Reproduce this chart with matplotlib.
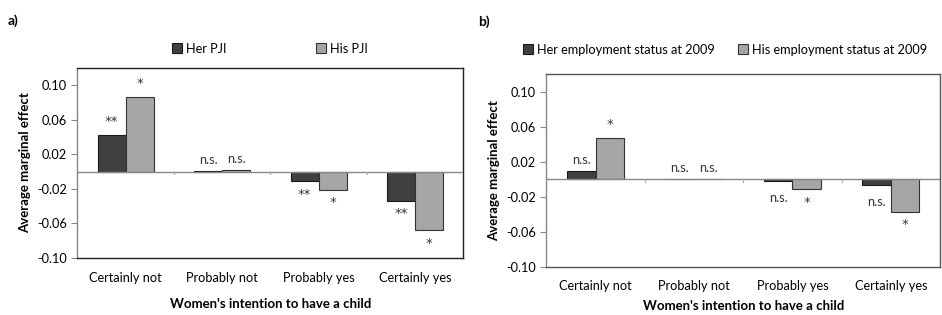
import matplotlib
matplotlib.use("Agg")
import matplotlib.pyplot as plt
import numpy as np

plt.rcParams['font.family'] = ['Lato', 'DejaVu Sans']

categories = ["Certainly not", "Probably not", "Probably yes", "Certainly yes"]

a_series = ["Her PJI", "His PJI"]
a_her = [0.043, 0.001, -0.011, -0.034]
a_his = [0.087, 0.002, -0.021, -0.068]
a_her_sig = ["**", "n.s.", "**", "**"]
a_his_sig = ["*", "n.s.", "*", "*"]

b_series = ["Her employment status at 2009", "His employment status at 2009"]
b_her = [0.009, 0.0, -0.002, -0.007]
b_his = [0.047, 0.0, -0.011, -0.037]
b_her_sig = ["n.s.", "n.s.", "n.s.", "n.s."]
b_his_sig = ["*", "n.s.", "*", "*"]

yticks = [0.10, 0.06, 0.02, -0.02, -0.06, -0.10]
ylabel = "Average marginal effect"
xlabel = "Women's intention to have a child"

HER_C = "#404040"
HIS_C = "#a6a6a6"
FS = 9.2

fig = plt.figure(figsize=(9.42, 3.15), dpi=100)

def panel(rect, her, his, her_sig, his_sig, names, frame_col, tpad, lpad):
    ax = fig.add_axes(rect)
    x = np.arange(len(categories))
    w = 0.29
    ax.bar(x - w/2, her, w, color=HER_C, edgecolor="#1a1a1a", linewidth=0.8, label=names[0], zorder=3)
    ax.bar(x + w/2, his, w, color=HIS_C, edgecolor="#333333", linewidth=0.8, label=names[1], zorder=3)
    ax.set_xlim(-0.5, len(categories) - 0.5)
    ax.set_ylim(-0.10, 0.12)
    ax.set_yticks(yticks)
    ax.set_yticklabels([f"{t:.2f}" for t in yticks])
    ax.axhline(0, color="#888888", linewidth=1.0, zorder=4)
    for b in np.arange(0.5, len(categories) - 0.5, 1.0):
        ax.plot([b, b], [0, -0.003], color="#aaaaaa", linewidth=0.8, zorder=4)
    ax.set_xticks(x)
    ax.set_xticklabels(categories, fontsize=FS)
    ax.tick_params(axis='x', length=0, pad=tpad)
    ax.tick_params(axis='y', labelsize=FS, length=4, color="#888888", width=0.8)
    for s in ax.spines.values():
        s.set_color(frame_col)
        s.set_linewidth(1.0)
    ax.spines['left'].set_color("#888888")
    ax.set_ylabel(ylabel, fontsize=9.5, fontweight='bold', labelpad=4)
    ax.set_xlabel(xlabel, fontsize=9.5, fontweight='bold', labelpad=lpad)
    for i in range(len(categories)):
        for xi, val, sig in ((x[i] - w/2, her[i], her_sig[i]), (x[i] + w/2, his[i], his_sig[i])):
            if sig == "n.s.":
                off = 0.013 if val >= 0 else 0.019
                fs = FS
                fam = ['Lato']
            else:
                off = 0.015
                fs = 9.5
                fam = ['DejaVu Sans']
            yy = val + off if val >= 0 else val - off
            ax.text(xi, yy, sig, ha='center', va='center', fontsize=fs, family=fam, color="#333333")
    return ax

ax1 = panel([0.082, 0.181, 0.410, 0.603], a_her, a_his, a_her_sig, a_his_sig, a_series, "#222222", 10, 10)
ax2 = panel([0.580, 0.152, 0.418, 0.613], b_her, b_his, b_her_sig, b_his_sig, b_series, "#555555", 9, 6)

fig.text(0.008, 0.935, "a)", fontsize=10, fontweight='bold', va='center')
fig.text(0.508, 0.93, "b)", fontsize=10, fontweight='bold', va='center')

h1, l1 = ax1.get_legend_handles_labels()
fig.legend(h1, l1, loc='center left', bbox_to_anchor=(0.177, 0.845), ncol=2, frameon=False,
           fontsize=FS, handlelength=0.8, handleheight=0.8, handletextpad=0.3, columnspacing=7.0, borderaxespad=0)
h2, l2 = ax2.get_legend_handles_labels()
fig.legend(h2, l2, loc='center left', bbox_to_anchor=(0.550, 0.842), ncol=2, frameon=False,
           fontsize=FS, handlelength=0.8, handleheight=0.8, handletextpad=0.3, columnspacing=1.8, borderaxespad=0)

fig.savefig("out.png", dpi=100)
